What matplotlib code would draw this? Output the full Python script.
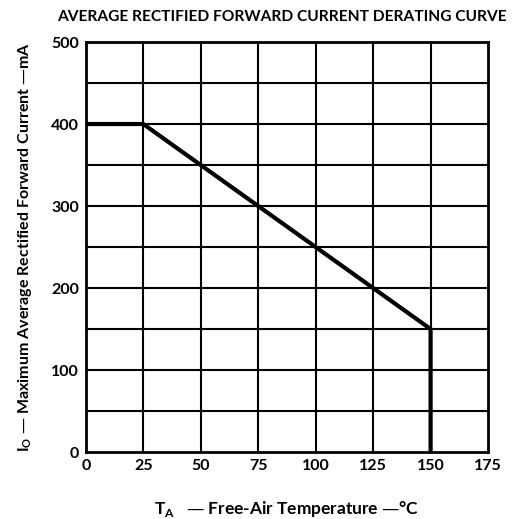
import matplotlib
matplotlib.use("Agg")
import matplotlib.pyplot as plt

temp_c = [0, 25, 150, 150]
current_ma = [400, 400, 150, 0]
x_ticks = [0, 25, 50, 75, 100, 125, 150, 175]
y_ticks = [0, 100, 200, 300, 400, 500]
y_grid = [50, 100, 150, 200, 250, 300, 350, 400, 450]

plt.rcParams['font.family'] = ['Lato', 'DejaVu Sans']
plt.rcParams['font.weight'] = 'bold'

fig = plt.figure(figsize=(5.17, 5.19), dpi=100)
ax = fig.add_axes([0.166, 0.129, 0.778, 0.790])
ax.set_xlim(0, 175)
ax.set_ylim(0, 500)

for x in x_ticks[1:-1]:
    ax.axvline(x, color='black', lw=1.5, zorder=1)
for y in y_grid:
    ax.axhline(y, color='black', lw=1.5, zorder=1)

ax.plot(temp_c, current_ma, color='black', lw=3, solid_joinstyle='miter', zorder=3)

for s in ax.spines.values():
    s.set_linewidth(2)
ax.set_xticks(x_ticks)
ax.set_yticks(y_ticks)
ax.tick_params(length=0, labelsize=11.5, pad=5)
for lab in ax.get_xticklabels() + ax.get_yticklabels():
    lab.set_fontweight('bold')

fig.text(0.546, 0.968, 'AVERAGE RECTIFIED FORWARD CURRENT DERATING CURVE',
         ha='center', va='center', fontsize=11.2, fontweight='bold')
ax.set_xlabel('T$_\\mathregular{A}$   — Free-Air Temperature —°C', fontsize=12.5,
              fontweight='bold', labelpad=19)
ax.set_ylabel('I$_\\mathregular{O}$ — Maximum Average Rectified Forward Current —mA',
              fontsize=11.5, fontweight='bold', labelpad=12)

fig.savefig('out.png', dpi=100)
